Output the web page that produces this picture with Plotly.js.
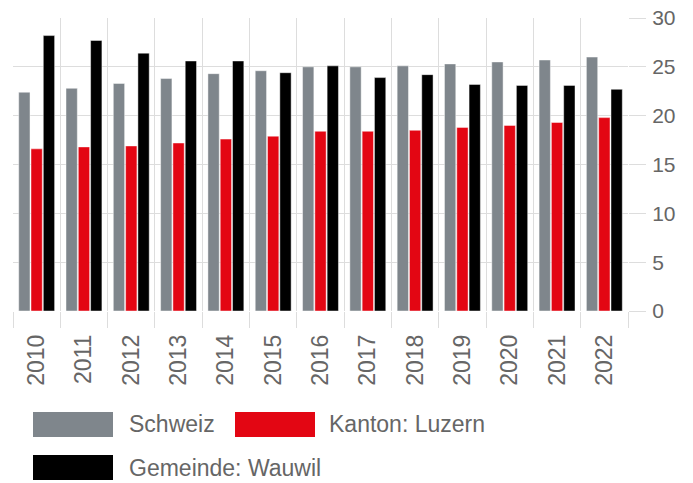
<!DOCTYPE html>
<html>
<head>
<meta charset="utf-8">
<script src="https://cdn.plot.ly/plotly-3.0.1.min.js"></script>
<style>html,body{margin:0;padding:0;background:#fff;}#chart{width:693px;height:483px;}</style>
</head>
<body>
<div id="chart"></div>
<script>
const years = ["2010","2011","2012","2013","2014","2015","2016","2017","2018","2019","2020","2021","2022"];
const seriesNames = ["Schweiz", "Kanton: Luzern", "Gemeinde: Wauwil"];
const schweiz = [22.4, 22.8, 23.3, 23.8, 24.3, 24.6, 25.0, 25.0, 25.1, 25.3, 25.5, 25.7, 26.0];
const luzern  = [16.6, 16.8, 16.9, 17.2, 17.6, 17.9, 18.4, 18.4, 18.5, 18.8, 19.0, 19.3, 19.8];
const wauwil  = [28.2, 27.7, 26.4, 25.6, 25.6, 24.4, 25.1, 23.9, 24.2, 23.2, 23.1, 23.1, 22.7];
const colors = ["#7f868c", "#e30613", "#000000"];

const W = 693, H = 483;
const M = {l: 13, r: 65, t: 18, b: 172};
const pw = W - M.l - M.r, ph = H - M.t - M.b;
const px = x => (x - M.l) / pw;
const py = y => (H - M.b - y) / ph;

const font = "Liberation Sans, Arial, Helvetica, sans-serif";
const textColor = "#666666";
const gridColor = "#dddddd";

const vals = [schweiz, luzern, wauwil];
const traces = vals.map((v, i) => ({
  type: "bar",
  name: seriesNames[i],
  x: years,
  y: v,
  marker: {color: colors[i], line: {color: "rgba(255,255,255,0.45)", width: 1}},
  showlegend: false,
  hoverinfo: "x+y+name"
}));

// custom legend (large swatches)
const legendPos = [
  {sx: 33, tx: 127, yTop: 412},
  {sx: 235, tx: 327, yTop: 412},
  {sx: 33, tx: 127, yTop: 455}
];
const shapes = [], annotations = [];
legendPos.forEach((p, i) => {
  shapes.push({type: "rect", xref: "paper", yref: "paper",
    x0: px(p.sx), x1: px(p.sx + 80), y0: py(p.yTop + 25), y1: py(p.yTop),
    fillcolor: colors[i], line: {width: 0}});
  annotations.push({xref: "paper", yref: "paper", x: px(p.tx), y: py(p.yTop + 12.5),
    xanchor: "left", yanchor: "middle", showarrow: false, text: seriesNames[i],
    font: {family: font, size: 23, color: textColor}});
});

const layout = {
  width: W, height: H,
  margin: M,
  paper_bgcolor: "#fff", plot_bgcolor: "#fff",
  barmode: "group",
  bargap: 0.22,
  bargroupgap: 0.08,
  font: {family: font, color: textColor},
  xaxis: {
    type: "category",
    tickson: "boundaries",
    showgrid: true, gridcolor: gridColor, gridwidth: 1,
    ticks: "outside", ticklen: 16, tickcolor: gridColor, tickwidth: 1,
    tickangle: -90,
    ticklabelstandoff: 18,
    tickfont: {family: font, size: 23, color: textColor},
    showline: false, zeroline: false
  },
  yaxis: {
    side: "right",
    range: [0, 30], dtick: 5, tick0: 0,
    showgrid: true, gridcolor: gridColor, gridwidth: 1,
    ticks: "outside", ticklen: 17, tickcolor: gridColor, tickwidth: 1,
    ticklabelstandoff: 2,
    tickfont: {family: font, size: 21, color: textColor},
    showline: false, zeroline: false
  },
  shapes: shapes,
  annotations: annotations
};

Plotly.newPlot("chart", traces, layout, {displayModeBar: false, staticPlot: true});
</script>
</body>
</html>
